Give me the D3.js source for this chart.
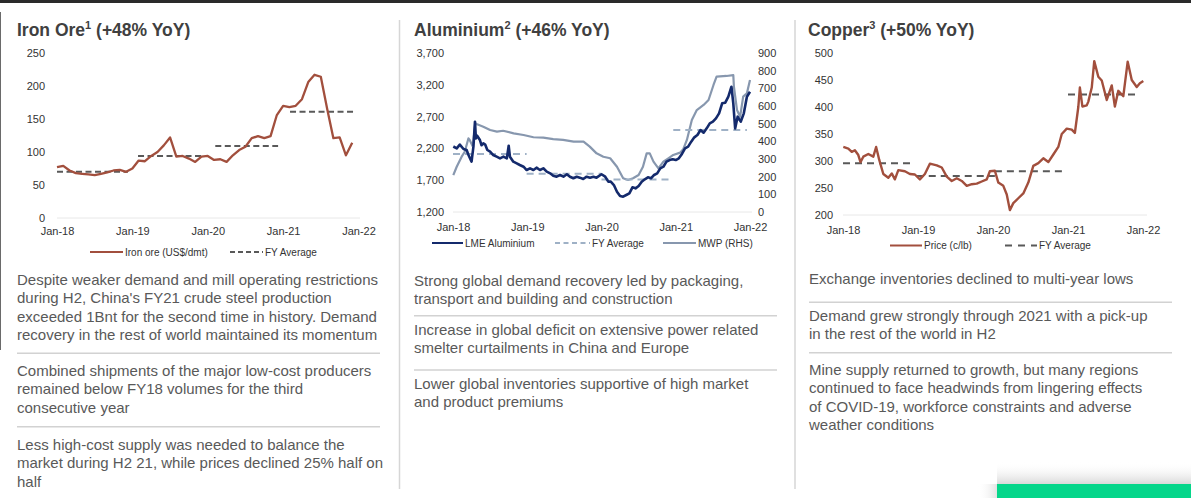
<!DOCTYPE html>
<html>
<head>
<meta charset="utf-8">
<script src="https://cdn.jsdelivr.net/npm/d3@7"></script>
<style>
  body { margin: 0; background: #fff; }
  svg { display: block; font-family: Arial, "Liberation Sans", sans-serif; }
</style>
</head>
<body>
<div id="chart"></div>
<script>
// ---- data ----
var xTickMonths = [0, 12, 24, 36, 48]
var xTickLabels = ["Jan-18", "Jan-19", "Jan-20", "Jan-21", "Jan-22"]

// iron ore, monthly Jan-18 .. Dec-21 (US$/dmt)
var ironValues = [77, 79, 72, 68, 67, 66, 65, 67, 69, 72, 73, 70,
                  75, 87, 86, 94, 100, 110, 122, 93, 94, 90, 85, 93,
                  94, 88, 89, 85, 95, 103, 108, 121, 124, 121, 124, 156,
                  170, 168, 170, 180, 206, 217, 214, 166, 121, 122, 95, 114]
var ironAvgStart = [0, 12.9, 25.2, 37.1]
var ironAvgEnd = [11.3, 23.2, 35.2, 47.3]
var ironAvgValue = [70, 94, 109, 161]
var ironTicks = [0, 50, 100, 150, 200, 250]

// aluminium, month index from Jan-18 (US$/t, MWP on right axis)
var lmeMonths = [0.05, 0.6, 1.1, 1.7, 2.2, 2.5, 3.0, 3.3, 3.55, 3.7, 3.9, 4.35, 4.6, 4.9, 5.2, 5.55, 6.0, 6.5, 7.05, 7.6,
                 8.15, 8.7, 9.0, 9.2, 9.75, 10.3, 10.8, 11.4, 11.9, 12.45, 13.0, 13.5, 14.05, 14.6, 15.15, 15.7, 16.2,
                 16.75, 17.3, 17.85, 18.4, 18.9, 19.45, 20.0, 20.5, 21.05, 21.6, 22.15, 22.7, 23.2, 24.0, 24.6, 25.1,
                 25.5, 26, 26.5, 27, 27.5, 28, 28.5, 29, 29.5, 30,
                 30.5, 31, 31.5, 32, 32.5, 33, 33.5, 34, 34.5, 35, 35.5, 36, 36.5, 37, 37.5, 38, 38.5, 39, 39.5, 40,
                 40.5, 41, 41.5, 42, 42.5, 43, 43.5, 44, 44.5, 45, 45.3, 45.6, 46, 46.5, 47, 47.5, 48]
var lmeValues = [2230, 2200, 2260, 2190, 2175, 2096, 1991, 2227, 2620, 2358, 2400, 2332, 2250, 2280, 2260, 2175, 2148, 2096, 2070, 2044,
                 2070, 2044, 2242, 2070, 1991, 1965, 1939, 1912, 1860, 1887, 1860, 1897, 1860, 1887, 1835, 1808, 1770,
                 1755, 1782, 1755, 1793, 1755, 1730, 1755, 1740, 1719, 1755, 1740, 1755, 1740, 1793, 1755, 1677,
                 1677, 1624, 1519, 1451, 1441, 1467, 1494, 1588, 1572, 1609,
                 1677, 1714, 1745, 1730, 1782, 1808, 1887, 1912, 1991, 2017, 2030, 2017, 2044, 2112, 2201, 2227, 2306, 2374, 2410, 2489,
                 2447, 2515, 2594, 2620, 2673, 2751, 2909, 2919, 3013, 3170, 2909, 2515, 2699, 2620, 2751, 3013, 3091]
var mwpMonths = [0.05, 0.6, 1.4, 1.9, 2.5, 2.7, 3.2, 3.6, 3.8, 4.9, 6.0, 7.1, 8.1, 9.8, 11.4, 13.0, 14.6, 16.2, 17.8, 19.5,
                 21.1, 22.1, 23.2, 24.3, 25.4, 26.5, 27.5, 28.3, 29.1, 30.0, 30.7, 31.3, 31.8, 32.4, 33.2, 34.0, 34.8, 35.6,
                 36.7, 37.2, 37.8, 38.6, 39.4, 40.5, 41.3, 42.1, 42.6, 44.2, 45.3, 45.4, 45.9, 46.4, 46.9, 47.5, 48.0]
var mwpValues = [209, 256, 313, 341, 417, 408, 370, 502, 498, 483, 464, 455, 460, 445, 436, 423, 421, 413, 408, 398,
                 398, 370, 332, 313, 304, 256, 191, 181, 191, 209, 256, 332, 332, 285, 247, 285, 304, 323,
                 336, 355, 408, 521, 577, 606, 634, 719, 766, 770, 775, 709, 577, 539, 653, 672, 747]
var alAvgStart = [0, 11.9, 24.0, 35.6]
var alAvgEnd = [11.9, 24.0, 35.6, 47.5]
var alAvgValue = [2112, 1800, 1710, 2490]
var alTicks = [1200, 1700, 2200, 2700, 3200, 3700]
var alTicksRight = [0, 100, 200, 300, 400, 500, 600, 700, 800, 900]

// copper, month index from Jan-18 (c/lb)
var cuMonths = [0.05, 0.85, 1.4, 1.9, 2.45, 2.8, 3.25, 4.05, 4.85, 5.3, 5.8, 6.45, 7.25, 7.8, 8.3, 8.85, 9.9, 10.7, 11.5,
                12.3, 13.1, 13.9, 15.0, 15.8, 16.6, 17.4, 18.2, 19.0, 19.8, 20.6, 21.4, 22.2, 23.0, 23.5, 24.3, 24.85,
                25.65, 26.2, 26.7, 27.25, 28.05, 28.85, 29.65, 30.45, 31.25, 32.05, 32.85, 33.65, 34.45, 35.0, 35.8,
                36.6, 37.1, 37.65, 37.9, 38.3, 39.0, 39.25, 39.8, 40.2, 40.85, 41.4, 42.2, 43.0, 43.5, 44.05, 44.85,
                45.55, 46.2, 47.0, 47.5, 48.05]
var cuValues = [326, 323, 317, 320, 311, 298, 308, 313, 308, 326, 302, 276, 269, 277, 266, 283, 281, 276, 275,
                266, 276, 295, 292, 288, 271, 263, 268, 263, 254, 257, 258, 262, 266, 281, 282, 260,
                254, 238, 209, 222, 231, 240, 260, 291, 296, 305, 298, 312, 326, 350, 360,
                358, 352, 400, 436, 401, 403, 410, 436, 485, 456, 449, 413, 440, 401, 430, 420,
                484, 450, 437, 444, 448]
var cuAvgStart = [0, 11.8, 24.3, 36]
var cuAvgEnd = [11.2, 24.3, 35.2, 47.5]
var cuAvgValue = [296, 272, 281, 423]
var cuTicks = [200, 250, 300, 350, 400, 450, 500]

var ironText = [
  ["Despite weaker demand and mill operating restrictions", "during H2, China's FY21 crude steel production",
   "exceeded 1Bnt for the second time in history. Demand", "recovery in the rest of world maintained its momentum"],
  ["Combined shipments of the major low-cost producers", "remained below FY18 volumes for the third", "consecutive year"],
  ["Less high-cost supply was needed to balance the", "market during H2 21, while prices declined 25% half on", "half"]
]
var alText = [
  ["Strong global demand recovery led by packaging,", "transport and building and construction"],
  ["Increase in global deficit on extensive power related", "smelter curtailments in China and Europe"],
  ["Lower global inventories supportive of high market", "and product premiums"]
]
var cuText = [
  ["Exchange inventories declined to multi-year lows"],
  ["Demand grew strongly through 2021 with a pick-up", "in the rest of the world in H2"],
  ["Mine supply returned to growth, but many regions", "continued to face headwinds from lingering effects",
   "of COVID-19, workforce constraints and adverse", "weather conditions"]
]

var width = 1191, height = 498
var svg = d3.select("#chart").append("svg").attr("width", width).attr("height", height)

// soft shadow above the green box
var defs = svg.append("defs")
var grad = defs.append("linearGradient").attr("id", "fade").attr("x1", 0).attr("x2", 0).attr("y1", 0).attr("y2", 1)
grad.append("stop").attr("offset", "0%").attr("stop-color", "#fff").attr("stop-opacity", 0)
grad.append("stop").attr("offset", "100%").attr("stop-color", "#d9d9d9").attr("stop-opacity", 1)
var gradSide = defs.append("linearGradient").attr("id", "fadeSide").attr("x1", 0).attr("x2", 1).attr("y1", 0).attr("y2", 0)
gradSide.append("stop").attr("offset", "0%").attr("stop-color", "#fff").attr("stop-opacity", 0)
gradSide.append("stop").attr("offset", "100%").attr("stop-color", "#e2e2e2").attr("stop-opacity", 1)

// frame bits
svg.append("rect").attr("x", 0).attr("y", 0).attr("width", width).attr("height", 3).attr("fill", "#2a2a2a")
svg.append("line").attr("x1", 0.5).attr("x2", 0.5).attr("y1", 12).attr("y2", 350).attr("stroke", "#6a6a6a").attr("stroke-width", 1)
svg.selectAll(".divider").data([399.5, 795]).enter().append("line")
  .attr("x1", d => d).attr("x2", d => d).attr("y1", 20).attr("y2", 489)
  .attr("stroke", "#d6d6d6").attr("stroke-width", 1.5)

function title(x, main, sup, rest) {
  var t = svg.append("text").attr("x", x).attr("y", 36)
    .attr("font-size", 17.5).attr("font-weight", "bold").attr("fill", "#404040")
  t.append("tspan").text(main)
  t.append("tspan").attr("font-size", 11).attr("dy", -7).text(sup)
  t.append("tspan").attr("dy", 7).text(rest)
}

function styleAxis(g) {
  g.select(".domain").remove()
  g.attr("font-family", "Arial, 'Liberation Sans', sans-serif").attr("font-size", 11)
  g.selectAll("text").attr("fill", "#333")
}

function bullets(x, x2, blocks, sepYs, blockBases) {
  blocks.forEach(function(lines, b) {
    var t = svg.append("text").attr("font-size", 15).attr("fill", "#595959")
    lines.forEach(function(l, i) {
      t.append("tspan").attr("x", x).attr("y", blockBases[b] + i * 18.4).text(l)
    })
  })
  sepYs.forEach(function(y) {
    svg.append("line").attr("x1", x).attr("x2", x2).attr("y1", y).attr("y2", y)
      .attr("stroke", "#d2d2d2").attr("stroke-width", 1.5)
  })
}

function legendLine(x1, x2, y, color, dash, label, size) {
  svg.append("line").attr("x1", x1).attr("x2", x2).attr("y1", y).attr("y2", y)
    .attr("stroke", color).attr("stroke-width", 2).attr("stroke-dasharray", dash)
  svg.append("text").attr("x", x2 + 2).attr("y", y + 3.5).attr("font-size", size).attr("fill", "#333").text(label)
}

// ---------- Iron ore ----------
var ironX = d3.scaleLinear().domain([0, 48]).range([57, 358.5])
var ironY = d3.scaleLinear().domain([0, 250]).range([218, 53])

title(17, "Iron Ore", "1", " (+48% YoY)")

svg.append("line").attr("x1", 57).attr("x2", 360).attr("y1", ironY(0)).attr("y2", ironY(0)).attr("stroke", "#e8e8e8")

svg.append("g").attr("transform", "translate(45,0)")
  .call(d3.axisLeft(ironY).tickValues(ironTicks).tickSize(0).tickPadding(0)).call(styleAxis)
svg.append("g").attr("transform", "translate(0,227)")
  .call(d3.axisBottom(ironX).tickValues(xTickMonths).tickSize(0).tickPadding(0)
    .tickFormat((d, i) => xTickLabels[i])).call(styleAxis)

svg.append("g").selectAll("line").data(ironAvgValue).enter().append("line")
  .attr("x1", (d, i) => ironX(ironAvgStart[i])).attr("x2", (d, i) => ironX(ironAvgEnd[i]))
  .attr("y1", d => ironY(d)).attr("y2", d => ironY(d))
  .attr("stroke", "#595959").attr("stroke-width", 2).attr("stroke-dasharray", "6,3.5")

svg.append("path").datum(ironValues)
  .attr("d", d3.line().x((d, i) => ironX(i)).y(d => ironY(d)))
  .attr("fill", "none").attr("stroke", "#a24f3d").attr("stroke-width", 2.3).attr("stroke-linejoin", "round")

legendLine(90, 123, 252, "#a24f3d", null, "Iron ore (US$/dmt)", 10)
legendLine(230, 263, 252, "#595959", "5,3", "FY Average", 10)

bullets(17, 380, ironText, [353.3, 426.7], [285, 375.7, 450])

// ---------- Aluminium ----------
var alX = d3.scaleLinear().domain([0, 48]).range([453, 750])
var alY = d3.scaleLinear().domain([1200, 3700]).range([212, 53])
var alY2 = d3.scaleLinear().domain([0, 900]).range([212, 53])

title(414, "Aluminium", "2", " (+46% YoY)")

svg.append("line").attr("x1", 453).attr("x2", 752).attr("y1", alY(1200)).attr("y2", alY(1200)).attr("stroke", "#e8e8e8")

svg.append("g").attr("transform", "translate(444,0)")
  .call(d3.axisLeft(alY).tickValues(alTicks).tickSize(0).tickPadding(0).tickFormat(d3.format(","))).call(styleAxis)
svg.append("g").attr("transform", "translate(758,0)")
  .call(d3.axisRight(alY2).tickValues(alTicksRight).tickSize(0).tickPadding(0)).call(styleAxis)
svg.append("g").attr("transform", "translate(0,223)")
  .call(d3.axisBottom(alX).tickValues(xTickMonths).tickSize(0).tickPadding(0)
    .tickFormat((d, i) => xTickLabels[i])).call(styleAxis)

svg.append("path").datum(mwpValues)
  .attr("d", d3.line().x((d, i) => alX(mwpMonths[i])).y(d => alY2(d)))
  .attr("fill", "none").attr("stroke", "#8797ae").attr("stroke-width", 2.2).attr("stroke-linejoin", "round")

svg.append("g").selectAll("line").data(alAvgValue).enter().append("line")
  .attr("x1", (d, i) => alX(alAvgStart[i])).attr("x2", (d, i) => alX(alAvgEnd[i]))
  .attr("y1", d => alY(d)).attr("y2", d => alY(d))
  .attr("stroke", "#9fb1c6").attr("stroke-width", 2).attr("stroke-dasharray", "7,5")

svg.append("path").datum(lmeValues)
  .attr("d", d3.line().x((d, i) => alX(lmeMonths[i])).y(d => alY(d)))
  .attr("fill", "none").attr("stroke", "#142a6c").attr("stroke-width", 2.6).attr("stroke-linejoin", "round")

legendLine(432, 463, 243, "#142a6c", null, "LME Aluminium", 10)
legendLine(555, 590, 243, "#9fb1c6", "5,3.5", "FY Average", 10)
legendLine(663, 696, 243, "#8797ae", null, "MWP (RHS)", 10)

bullets(414, 777, alText, [315.7, 370], [285.7, 334.5, 389])

// ---------- Copper ----------
var cuX = d3.scaleLinear().domain([0, 48]).range([843, 1143])
var cuY = d3.scaleLinear().domain([200, 500]).range([215, 53])

title(808, "Copper", "3", " (+50% YoY)")

svg.append("line").attr("x1", 843).attr("x2", 1147).attr("y1", cuY(200)).attr("y2", cuY(200)).attr("stroke", "#e8e8e8")

svg.append("g").attr("transform", "translate(833,0)")
  .call(d3.axisLeft(cuY).tickValues(cuTicks).tickSize(0).tickPadding(0)).call(styleAxis)
svg.append("g").attr("transform", "translate(0,226)")
  .call(d3.axisBottom(cuX).tickValues(xTickMonths).tickSize(0).tickPadding(0)
    .tickFormat((d, i) => xTickLabels[i])).call(styleAxis)

svg.append("g").selectAll("line").data(cuAvgValue).enter().append("line")
  .attr("x1", (d, i) => cuX(cuAvgStart[i])).attr("x2", (d, i) => cuX(cuAvgEnd[i]))
  .attr("y1", d => cuY(d)).attr("y2", d => cuY(d))
  .attr("stroke", "#595959").attr("stroke-width", 2).attr("stroke-dasharray", "7,5")

svg.append("path").datum(cuValues)
  .attr("d", d3.line().x((d, i) => cuX(cuMonths[i])).y(d => cuY(d)))
  .attr("fill", "none").attr("stroke", "#a24f3d").attr("stroke-width", 2.4).attr("stroke-linejoin", "round")

legendLine(890, 922, 245.5, "#a24f3d", null, "Price (c/lb)", 10)
legendLine(1005, 1037, 245.5, "#595959", "7,6", "FY Average", 10)

bullets(809, 1172, cuText, [302.3, 352.7], [284.3, 320.7, 375])

// green box bottom right, with its shadow
svg.append("rect").attr("x", 997).attr("y", 462).attr("width", 194).attr("height", 22).attr("fill", "url(#fade)")
svg.append("rect").attr("x", 978).attr("y", 484).attr("width", 19).attr("height", 14).attr("fill", "url(#fadeSide)")
svg.append("rect").attr("x", 997).attr("y", 484).attr("width", 194).attr("height", 14).attr("fill", "#05d68a")
</script>
</body>
</html>
